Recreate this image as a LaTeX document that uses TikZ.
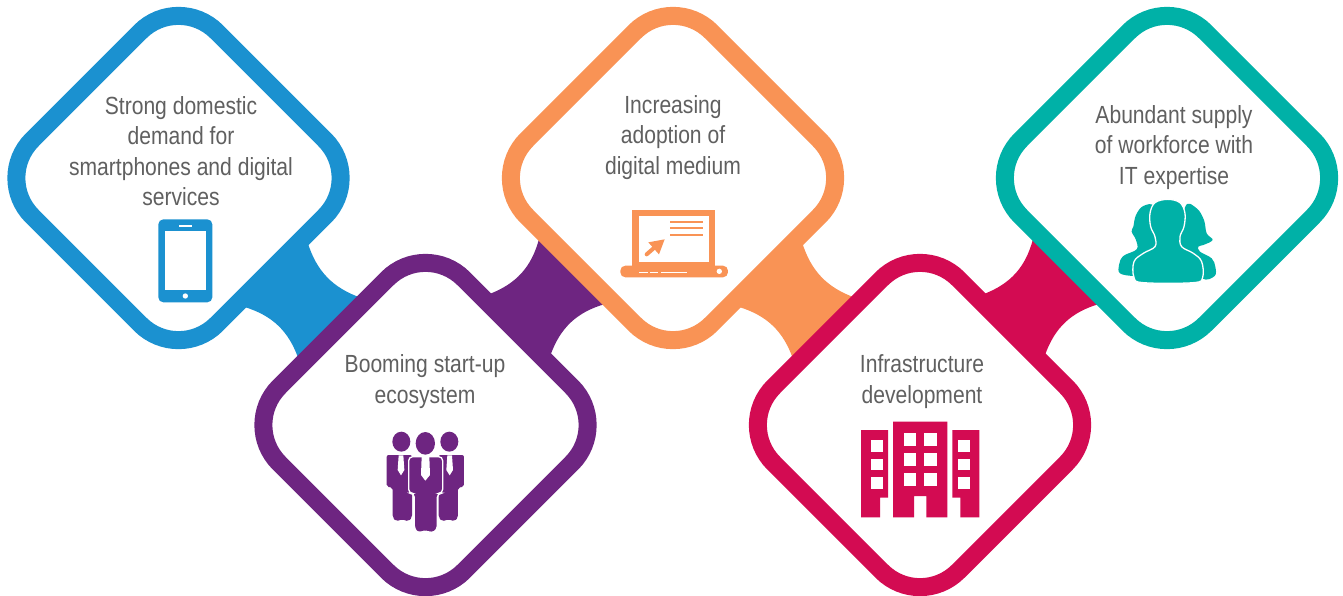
\documentclass[tikz,border=0pt]{standalone}
\usepackage{fontspec}
\setmainfont[FakeStretch=0.85]{Liberation Sans}
\usetikzlibrary{shapes.geometric,calc}
\definecolor{cblue}{HTML}{1B91D0}
\definecolor{cpurple}{HTML}{6E2581}
\definecolor{corange}{HTML}{F99355}
\definecolor{ccrimson}{HTML}{D30B52}
\definecolor{cteal}{HTML}{00B1A7}
\definecolor{ctext}{HTML}{606060}
\tikzset{
  card/.style={shape=diamond,shape aspect=1,draw=#1,fill=white,line width=18pt,
    minimum width=369pt,minimum height=369pt,inner sep=0pt,outer sep=0pt,rounded corners=54pt},
  label/.style={align=center,text=ctext,font=\fontsize{24.8}{30.4}\selectfont,inner sep=0pt},
  icon/.style={x=0.3333pt,y=-0.3333pt},
}
\newcommand{\downband}[3]{%
  \fill[#3] ($(#1)+(129,64)$) to[bend right=27] ($(#2)+(-64,-127)$)
    -- ($(#2)+(-127,-66)$) to[bend right=27] ($(#1)+(66,129)$) -- cycle;}
\newcommand{\upband}[3]{%
  \fill[#3] ($(#1)+(64,-131)$) to[bend right=27] ($(#2)+(-134,61)$)
    -- ($(#2)+(-68,126)$) to[bend right=27] ($(#1)+(125,-70)$) -- cycle;}
\begin{document}
\begin{tikzpicture}[x=1pt,y=-1pt]
\useasboundingbox (0,0) rectangle (1343,595);
\coordinate (pb) at (178.5,178);
\coordinate (pp) at (425.5,425);
\coordinate (po) at (673,178);
\coordinate (pc) at (920,425);
\coordinate (pt) at (1167,178);
\downband{pb}{pp}{cblue}
\upband{pp}{po}{cpurple}
\downband{po}{pc}{corange}
\upband{pc}{pt}{ccrimson}
\node[card=cblue] (blue) at (pb) {};
\node[card=cpurple] (purple) at (pp) {};
\node[card=corange] (orange) at (po) {};
\node[card=ccrimson] (crimson) at (pc) {};
\node[card=cteal] (teal) at (pt) {};
\node[label] (tb) at (181,151) {Strong domestic\\demand for\\smartphones and digital\\services};
\node[label] (tp) at (425,381.5) {Booming start-up\\ecosystem};
\node[label] (to) at (673,137.5) {Increasing\\adoption of\\digital medium};
\node[label] (tc) at (922,381.5) {Infrastructure\\development};
\node[label] (tt) at (1174,147.5) {Abundant supply\\of workforce with\\IT expertise};
% phone
\begin{scope}[shift={(130,200)},icon]
\fill[cblue,rounded corners=5pt] (85,58) rectangle (247,307);
\fill[white] (105,94) rectangle (227,271);
\fill[white] (147,75) rectangle (185,80);
\fill[white] (166,288) circle (8);
\end{scope}
% people
\begin{scope}[shift={(370,420)},icon]
\foreach \m in {1,-1}{
\begin{scope}[shift={(166,0)},xscale=\m]
\fill[cpurple] (-72,65) ellipse (27 and 30);
\fill[cpurple,rounded corners=2pt] (-116,105) -- (-40,105) -- (-40,292) -- (-50,304) -- (-70,298) -- (-88,304) -- (-98,292) -- (-98,203) -- (-116,200) -- cycle;
\fill[white] (-80,106) -- (-66,106) -- (-63,150) -- (-73,166) -- (-83,150) -- cycle;
\end{scope}}
\fill[cpurple] (166,70) ellipse (29 and 34);
\filldraw[cpurple,draw=white,line width=1.3pt,rounded corners=4pt] (116,110) -- (218,110) -- (218,220) -- (202,220) -- (202,330) -- (185,340) -- (166,332) -- (147,340) -- (133,330) -- (133,220) -- (116,220) -- cycle;
\fill[white] (155,110) -- (178,110) -- (180,165) -- (166,182) -- (153,165) -- cycle;
\end{scope}
% laptop
\begin{scope}[shift={(480,200)},icon]
\fill[corange] (456,30) rectangle (706,205);
\fill[white] (476,48) rectangle (687,187);
\fill[corange,rounded corners=5pt] (421,197) rectangle (744,232);
\foreach \y in {66,85,104}{\fill[corange] (570,\y-3) rectangle (670,\y+3);}
\draw[corange,line width=4pt,line cap=round] (500,163) -- (530,137);
\fill[corange] (505,127) -- (554,118) -- (537,163) -- cycle;
\draw[white,line width=1pt] (478,217) -- (505,217) (510,217) -- (533,217) (543,217) -- (620,217);
\fill[white] (718,214) circle (8);
\end{scope}
% building
\begin{scope}[shift={(850,410)},icon]
\fill[ccrimson] (33,60) -- (114,60) -- (114,263) -- (90,263) -- (90,322) -- (33,322) -- cycle;
\fill[ccrimson] (129,35) -- (292,35) -- (292,322) -- (229,322) -- (229,258) -- (192,258) -- (192,322) -- (129,322) -- cycle;
\fill[ccrimson] (307,60) -- (388,60) -- (388,322) -- (331,322) -- (331,263) -- (307,263) -- cycle;
\foreach \y in {91,146,202}{
  \fill[white] (63,\y) rectangle (98,\y+35);
  \fill[white] (325,\y) rectangle (359,\y+35);}
\foreach \y in {69,129,190}{
  \fill[white] (161,\y) rectangle (199,\y+38);
  \fill[white] (222,\y) rectangle (260,\y+38);}
\end{scope}
% team
\begin{scope}[shift={(980,190)},icon]
\fill[cteal] plot[smooth cycle,tension=0.6] coordinates {(490,48) (525,52) (540,150) (500,255) (460,258) (420,250) (417,225) (430,198) (470,178) (468,150) (455,125) (460,110) (468,75)};
\fill[cteal] plot[smooth cycle,tension=0.6] coordinates {(615,52) (650,55) (672,90) (680,130) (698,150) (670,165) (655,170) (660,185) (695,205) (706,230) (704,258) (665,265) (600,200)};
\filldraw[cteal,draw=white,line width=1.3pt] plot[smooth cycle,tension=0.6] coordinates {(563,28) (600,38) (615,70) (612,110) (600,140) (605,170) (640,190) (665,215) (668,262) (640,278) (490,278) (462,262) (462,215) (490,190) (525,170) (525,140) (512,110) (510,70) (525,38)};
\end{scope}
\end{tikzpicture}
\end{document}
